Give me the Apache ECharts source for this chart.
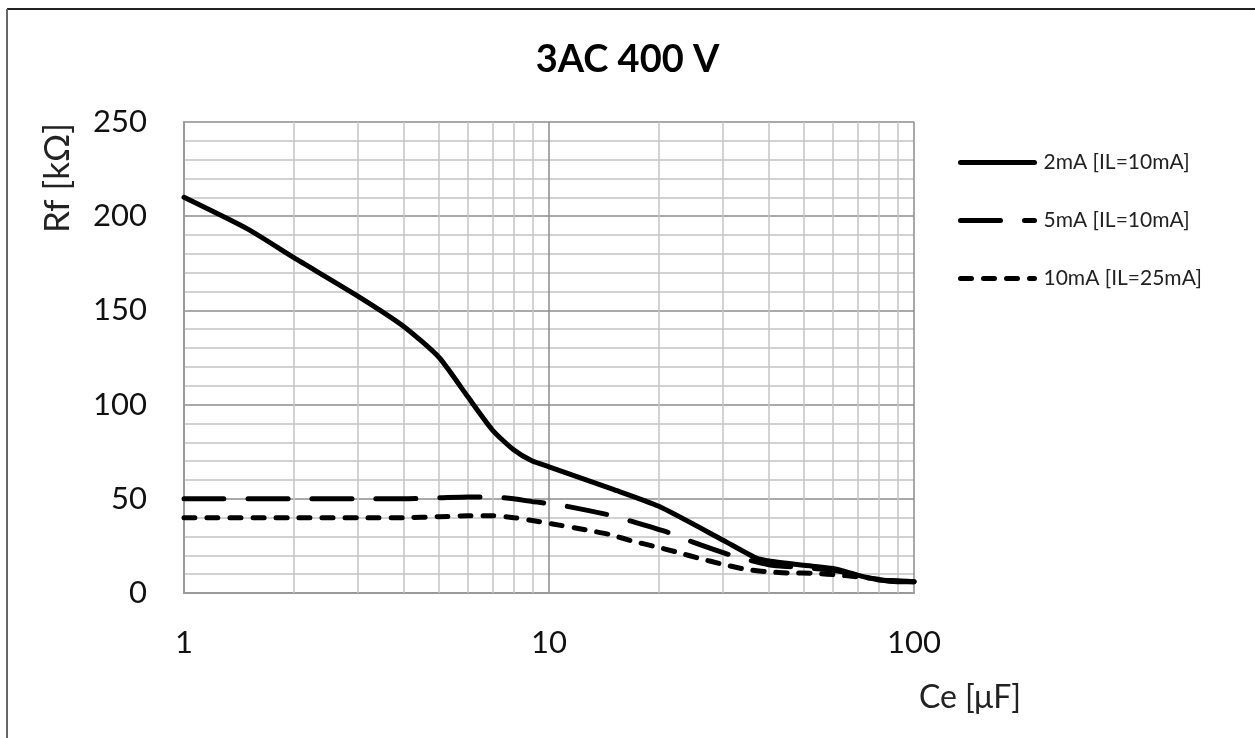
<!DOCTYPE html>
<html>
<head>
<meta charset="utf-8">
<script src="https://cdn.jsdelivr.net/npm/echarts@6/dist/echarts.min.js"></script>
<style>html,body{margin:0;padding:0;background:#fff}#c{width:1255px;height:738px}</style>
</head>
<body>
<div id="c"></div>
<script>
const titleText = '3AC 400 V';
const xName = 'Ce [μF]';
const yName = 'Rf [kΩ]';
const seriesNames = ['2mA [IL=10mA]', '5mA [IL=10mA]', '10mA [IL=25mA]'];
const yTicks = [0, 50, 100, 150, 200, 250];
const xMinorGrid = [2, 3, 4, 5, 6, 7, 8, 9, 20, 30, 40, 50, 60, 70, 80, 90];

const s2mA = [[1,210],[1.5,193],[2,178],[3,157.5],[4,141.5],[5,125],[6,104],[7,86.5],[8,76],[9,70],[10,67],[15,55],[20,46],[30,28],[37,18.5],[40,17],[50,14.7],[60,13],[70,9.5],[80,7],[90,6],[100,6]];
const s5mA = [[1,50],[2,50],[3,50],[4,50],[5,50.5],[6,51],[7,51],[8,50],[9,48.5],[10,47.5],[11.2,46],[14.7,41.3],[16.8,38.1],[21.6,31.6],[24.8,27],[31.6,20],[40,15],[50,13.5],[60,12],[70,9.5],[80,7],[100,6]];
const s10mA = [[1,40],[2,40],[3,40],[4,40],[5,40.5],[6,41],[7,41],[8,40],[9,38.5],[10,37],[12.7,33.4],[14.7,31],[16.9,27.6],[19.4,24.8],[22.3,21.8],[25.9,18.3],[29.7,15.4],[34.1,12.8],[39.4,11.3],[45.8,10.6],[53,10.5],[63,9.4],[75,8],[90,6.2],[100,6]];

const FONT = 'Lato';
const chart = echarts.init(document.getElementById('c'), null, {renderer: 'canvas'});
const lineBase = {type: 'line', showSymbol: false, symbol: 'none', smooth: 0.2, z: 5, itemStyle: {color: '#000'}};
chart.setOption({
  backgroundColor: '#fff',
  animation: false,
  title: {text: titleText, left: 'center', top: 36, textStyle: {fontFamily: FONT, fontSize: 38, fontWeight: 'bold', color: '#000'}},
  grid: {left: 184, right: 341, top: 122, bottom: 145, containLabel: false},
  legend: {
    orient: 'vertical', left: 953, top: 147, itemWidth: 74, itemHeight: 14, itemGap: 37,
    itemStyle: {opacity: 0},
    lineStyle: {width: 5, cap: 'round', color: '#000'},
    textStyle: {fontFamily: FONT, fontSize: 21, color: '#222', lineHeight: 20, padding: [0,0,0,4]},
    data: seriesNames
  },
  xAxis: {
    type: 'log', logBase: 10, min: 1, max: 100,
    axisLine: {show: true, lineStyle: {color: '#999', width: 2}},
    axisTick: {show: false},
    axisLabel: {fontFamily: FONT, fontSize: 31, color: '#111', margin: 34},
    splitLine: {show: true, lineStyle: {color: '#8c8c8c', width: 1.5}},
    minorSplitLine: {show: false}
  },
  yAxis: {
    type: 'value', min: 0, max: 250, interval: 50,
    axisLine: {show: true, lineStyle: {color: '#999', width: 2}},
    axisTick: {show: false},
    axisLabel: {fontFamily: FONT, fontSize: 31, color: '#111', margin: 37},
    splitLine: {show: true, lineStyle: {color: '#8c8c8c', width: 1.5}},
    minorTick: {show: false, splitNumber: 5},
    minorSplitLine: {show: true, lineStyle: {color: '#c4c4c4', width: 1.5}}
  },
  graphic: [
    {type: 'line', shape: {x1: 7, y1: 9, x2: 1255, y2: 9}, style: {stroke: '#222', lineWidth: 2}},
    {type: 'line', shape: {x1: 7, y1: 9, x2: 7, y2: 738}, style: {stroke: '#666', lineWidth: 2}},
    {type: 'text', x: 58, y: 178, rotation: Math.PI / 2, style: {text: yName, fontFamily: FONT, fontSize: 35, fill: '#222', textAlign: 'center', textVerticalAlign: 'middle'}},
    {type: 'text', x: 970, y: 698, style: {text: xName, fontFamily: FONT, fontSize: 32, fill: '#222', textAlign: 'center', textVerticalAlign: 'middle'}}
  ],
  series: [
    Object.assign({}, lineBase, {name: seriesNames[0], data: s2mA, lineStyle: {color: '#000', width: 5, cap: 'round', join: 'round'},
      markLine: {silent: true, symbol: 'none', label: {show: false}, z: 1,
        lineStyle: {color: '#c4c4c4', width: 1.5, type: 'solid'},
        data: xMinorGrid.map(v => ({xAxis: v}))}}),
    Object.assign({}, lineBase, {name: seriesNames[1], data: s5mA, lineStyle: {color: '#000', width: 5, type: [40, 24], cap: 'round'}}),
    Object.assign({}, lineBase, {name: seriesNames[2], data: s10mA, lineStyle: {color: '#000', width: 5, type: [11, 12], cap: 'round'}})
  ]
});
</script>
</body>
</html>
